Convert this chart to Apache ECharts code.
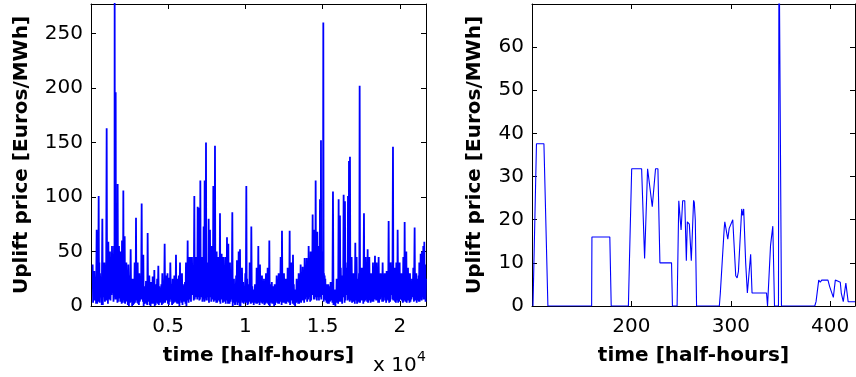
<!DOCTYPE html>
<html>
<head>
<meta charset="utf-8">
<script src="https://cdn.jsdelivr.net/npm/echarts@6/dist/echarts.min.js"></script>
<style>
html,body{margin:0;padding:0;background:#fff;}
#chart{width:856px;height:377px;}
</style>
</head>
<body>
<div id="chart"></div>
<script>
// ---- Left panel: whole series, envelope of spikes (time in half-hours) ----
const peakTimes = [
108,216,367,497,583,734,864,1015,1123,1231,
1360,1490,1533,1598,1662,1727,1814,1922,2008,2094,
2181,2289,2418,2569,2699,2828,2915,3023,3131,3282,
3390,3476,3562,3670,3778,3886,3994,4102,4210,4361,
4491,4620,4771,4901,5009,5138,5290,5398,5505,5613,
5765,5894,6024,6153,6261,6347,6455,6542,6693,6801,
6909,6995,7082,7189,7297,7362,7449,7535,7621,7708,
7816,7924,8031,8139,8247,8355,8463,8571,8701,8809,
8895,9003,9154,9262,9348,9456,9564,9651,9780,9931,
10061,10169,10277,10385,10514,10622,10730,10838,10946,11076,
11205,11335,11443,11551,11659,11767,11896,12026,12155,12285,
12371,12501,12630,12738,12868,12976,13084,13191,13321,13451,
13580,13710,13839,13969,14098,14228,14357,14465,14552,14660,
14746,14832,14897,14962,15048,15135,15221,15372,15523,15674,
15804,15912,16041,16127,16235,16365,16451,16559,16646,16711,
16775,16883,16991,17121,17207,17315,17402,17510,17682,17790,
17920,18028,18136,18265,18395,18503,18632,18762,18891,19021,
19150,19280,19409,19561,19669,19777,19863,19993,20100,20230,
20317,20425,20533,20662,20792,20964,21072,21180,21266,21353,
21439,21525,21590,21698
];
const peakValues = [
38,32,70,101,30,80,40,163,59,50,
55,55,280,196,80,112,55,50,60,106,
64,40,38,52,25,40,81,40,30,94,
47,5,23,67,28,22,27,33,20,37,
12,30,57,28,26,40,25,28,47,25,
40,30,18,40,60,45,45,45,101,45,
91,90,115,45,73,115,150,38,80,70,
55,110,147,50,45,85,48,45,45,63,
57,40,86,25,3,42,50,52,35,15,
110,20,40,73,15,20,35,55,38,28,
25,30,35,60,20,18,20,28,30,45,
69,30,25,35,69,40,47,5,25,30,
38,36,44,44,55,50,84,70,115,68,
55,98,152,50,260,28,20,20,22,105,
10,25,98,83,28,102,96,23,101,133,
137,45,30,58,45,25,202,35,85,45,
52,45,30,40,46,40,45,30,40,30,
32,78,40,146,35,40,70,40,30,45,
77,50,35,30,25,72,30,25,40,48,
50,55,59,25
];
// dips and secondary spikes between consecutive peaks
const troughValues = [
3,5,2,4,8,1,4,6,10,5,12,8,15,6,10,4,8,5,3,6,
2,5,0,4,1,3,6,2,4,10,0,5,2,4,1,3,2,0,3,1,
4,2,3,5,1,6,2,4,3,2,5,1,4,0,6,8,4,10,6,12,
8,5,10,4,6,12,5,8,3,10,6,4,8,3,5,2,6,4,2,5,
3,4,0,5,2,1,6,0,3,4,5,2,4,3,1,6,2,3,5,2,
1,3,2,0,4,2,1,3,2,4,5,3,2,4,1,5,3,0,4,2,
3,5,6,4,8,5,10,6,12,8,5,15,6,20,4,8,3,2,5,1,
0,3,6,4,2,8,5,10,6,12,5,3,4,6,2,8,3,5,4,6,
3,5,8,4,6,5,3,8,4,5,6,3,10,5,4,6,3,8,5,4,
6,3,5,4,8,5,3,6,4,8,10,6,8
];
const midValues = [
20,25,30,40,22,35,28,45,30,35,40,38,50,40,35,30,38,25,30,28,
25,20,28,18,22,30,35,20,25,30,15,18,20,15,22,18,20,15,25,18,
20,15,22,30,18,20,15,25,20,28,15,20,22,15,25,30,28,35,30,40,
35,30,45,40,38,42,35,40,30,38,35,30,40,25,35,30,38,30,28,25,
30,25,20,15,28,20,25,15,22,30,25,20,28,18,15,20,25,18,20,22,
15,20,18,15,22,18,15,20,15,18,22,25,20,15,25,18,20,15,22,18,
20,25,22,28,30,25,35,30,40,38,45,40,50,45,30,25,20,18,22,15,
15,20,30,35,25,30,35,40,30,45,35,30,28,32,25,30,28,35,30,40,
25,20,22,28,25,30,25,20,28,30,22,28,35,25,20,28,22,30,25,22,
28,25,30,22,35,25,20,28,30,35,40,30,38
];
const secondTroughValues = [
5,2,6,3,1,8,5,2,6,10,4,12,6,9,3,7,4,2,5,3,
4,1,3,0,2,5,3,1,6,4,2,3,1,5,0,2,4,1,2,3,
1,3,5,2,4,1,3,5,2,0,3,4,2,5,3,6,10,5,8,6,
10,6,8,12,4,7,10,5,8,4,9,5,3,6,4,8,3,5,6,2,
2,6,3,1,4,3,0,5,2,3,1,4,2,5,3,2,4,1,3,4,
2,4,1,3,2,0,5,2,4,1,3,2,4,3,5,2,1,3,2,4,
5,3,8,6,4,10,6,8,5,12,10,8,15,10,6,5,2,4,3,2,
3,2,4,6,8,3,10,5,8,4,6,5,2,5,4,3,6,2,5,4,
5,3,4,6,5,3,6,4,8,3,5,4,6,8,3,5,4,6,3,5,
4,5,3,6,4,7,5,4,6,5,8,6,4
];

// ---- Right panel: zoom on half-hours 100..425 ----
const zoomTimes = [
101,104.5,112,116,160,160.3,178.3,179.7,197,198,199.3,200.3,210.3,213.3,216.3,221,224.3,226.7,228.7,240.4,241.3,
246,247.7,250,251.6,253.7,255.3,256.3,258.3,260.3,262.6,263.3,264.3,265.6,
288.5,289.5,291,293.4,294,297,298.4,302,305,306.4,307.7,311,312,313,315,316.7,318.7,320,321.4,336,337,
339,340,342.3,344,348,348.5,349.8,351,
384.5,385.8,388.5,390,391.5,393.5,397.8,399.5,401,403.2,405.2,407.5,410.2,411.2,413.2,415.8,416.5,418.1,425
];
const zoomValues = [
0,37.6,37.6,0,0,16,16,0,0,10,10,31.8,31.8,11,31.8,23,31.8,31.8,10,10,0,
0,24.4,17.6,24.4,24.4,10.5,19.5,19,10.5,24.5,24,20,0,
0,3,3,18,19.5,15.5,18,20,7,6.5,8,22.5,21,22.5,10,3,3,12,3,3,0,
0,14,18.5,0,0,90,90,0,
0,1,6,5.5,6,5.8,6,4.5,4.5,2,6,5.8,5.5,3,1,5.3,5,1,1
];

const xTickLabelsLeft = {5000:'0.5',10000:'1',15000:'1.5',20000:'2'};

// build left series: peak, dip, secondary spike, dip, next peak ...
const leftData = [];
for (let i = 0; i < peakTimes.length; i++) {
  leftData.push([peakTimes[i], peakValues[i]]);
  if (i + 1 < peakTimes.length) {
    const a = peakTimes[i], d = peakTimes[i + 1] - a;
    leftData.push([a + 0.25 * d, troughValues[i]]);
    leftData.push([a + 0.5 * d, midValues[i]]);
    leftData.push([a + 0.75 * d, secondTroughValues[i]]);
  }
}
const rightData = zoomTimes.map((t, i) => [t, zoomValues[i]]);

const FONT = 'DejaVu Sans';
const axisLineStyle = {lineStyle: {color: '#000', width: 1}};
const tickStyle = {show: true, inside: true, length: 5, lineStyle: {color: '#000', width: 1}};
const labelStyle = {color: '#000', fontFamily: FONT, fontSize: 20};
const nameStyle = {color: '#000', fontFamily: FONT, fontSize: 20, fontWeight: 'bold'};

function xAx(grid, min, max, interval, pos, fmt, name) {
  return {
    type: 'value', gridIndex: grid, min: min, max: max, interval: interval, position: pos,
    axisLine: Object.assign({onZero: false}, axisLineStyle),
    axisTick: tickStyle, splitLine: {show: false},
    axisLabel: fmt ? Object.assign({formatter: fmt, margin: 11, showMinLabel: false, showMaxLabel: false}, labelStyle) : {show: false},
    name: name || '', nameLocation: 'middle', nameGap: 40, nameTextStyle: nameStyle
  };
}
function yAx(grid, min, max, interval, pos, show, gap) {
  return {
    type: 'value', gridIndex: grid, min: min, max: max, interval: interval, position: pos,
    axisLine: Object.assign({onZero: false}, axisLineStyle),
    axisTick: tickStyle, splitLine: {show: false},
    axisLabel: show ? Object.assign({margin: 8, showMaxLabel: false}, labelStyle) : {show: false},
    name: show ? 'Uplift price [Euros/MWh]' : '', nameLocation: 'middle', nameGap: gap || 0, nameTextStyle: nameStyle
  };
}

const chart = echarts.init(document.getElementById('chart'), null, {renderer: 'canvas'});
chart.setOption({
  animation: false,
  backgroundColor: '#fff',
  grid: [
    {left: 91, top: 4, width: 335, height: 302},
    {left: 532, top: 4, width: 323, height: 302}
  ],
  xAxis: [
    xAx(0, 0, 21700, 5000, 'bottom', v => xTickLabelsLeft[v] || '', 'time [half-hours]'),
    xAx(0, 0, 21700, 5000, 'top', null),
    xAx(1, 100, 425, 100, 'bottom', v => String(v), 'time [half-hours]'),
    xAx(1, 100, 425, 100, 'top', null)
  ],
  yAxis: [
    yAx(0, 0, 277, 50, 'left', true, 59),
    yAx(0, 0, 277, 50, 'right', false),
    yAx(1, 0, 70, 10, 'left', true, 47),
    yAx(1, 0, 70, 10, 'right', false)
  ],
  graphic: [
    {type: 'text', left: 373, top: 356, style: {text: 'x 10', fontFamily: FONT, fontSize: 20, fill: '#000'}},
    {type: 'text', left: 417, top: 350, style: {text: '4', fontFamily: FONT, fontSize: 14, fill: '#000'}}
  ],
  series: [
    {type: 'line', xAxisIndex: 0, yAxisIndex: 0, data: leftData, showSymbol: false, clip: true,
     lineStyle: {color: '#0000ff', width: 1.8}, itemStyle: {color: '#0000ff'}},
    {type: 'line', xAxisIndex: 2, yAxisIndex: 2, data: rightData, showSymbol: false, clip: true,
     lineStyle: {color: '#0000ff', width: 1.1}, itemStyle: {color: '#0000ff'}}
  ]
});
</script>
</body>
</html>
